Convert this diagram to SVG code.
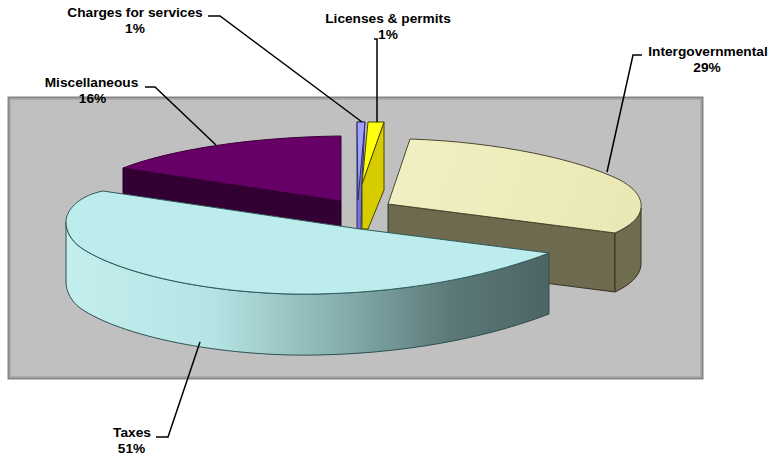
<svg xmlns="http://www.w3.org/2000/svg" width="768" height="457" viewBox="0 0 768 457">
<style>
  .lbl { font-family: "Liberation Sans", Arial, sans-serif; font-weight: bold; font-size: 13.7px; fill: #000; text-anchor: middle; }
  .lead { fill: none; stroke: #000; stroke-width: 1.5; stroke-linejoin: miter; }
  .edge { stroke-width: 1; stroke-linejoin: round; }
</style>
<defs>
  <linearGradient id="taxSide" gradientUnits="userSpaceOnUse" x1="66" y1="0" x2="549" y2="0">
    <stop offset="0" stop-color="#c3eeee"/>
    <stop offset="0.3" stop-color="#b6e4e4"/>
    <stop offset="0.55" stop-color="#8ab3b3"/>
    <stop offset="0.8" stop-color="#5c7878"/>
    <stop offset="1" stop-color="#4d6464"/>
  </linearGradient>
  <linearGradient id="intTop" gradientUnits="userSpaceOnUse" x1="388" y1="139" x2="641" y2="233">
    <stop offset="0" stop-color="#f1f0c2"/>
    <stop offset="1" stop-color="#e9e8b4"/>
  </linearGradient>
</defs>

<g id="plot-area">
  <rect x="8.5" y="97.5" width="694" height="281" fill="#c0c0c0" stroke="#858585" stroke-width="2"/>
  <rect x="10.5" y="99.5" width="690" height="277" fill="none" stroke="#acacac" stroke-width="1"/>
</g>

<g id="slice-miscellaneous">
  <path class="edge" d="M123,168 L341,201 L341,262 L123,229 Z" fill="#320032" stroke="#1a001a"/>
  <path class="edge" d="M123,168 C170,150 250,137 341,136 L341,201 Z" fill="#660066" stroke="#3a003a"/>
  <text class="lbl" x="91.5" y="87">Miscellaneous</text>
  <text class="lbl" x="92.5" y="103">16%</text>
</g>

<g id="slice-charges">
  <path class="edge" d="M357,122 L365,122 L362,184 L361,229 L357,229 Z" fill="#7474dc" stroke="#2e2e66"/>
  <path class="edge" d="M357,122 L365,122 L358,200 Z" fill="#a0a0ff" stroke="#2e2e66"/>
  <text class="lbl" x="135" y="17">Charges for services</text>
  <text class="lbl" x="135" y="33">1%</text>
</g>

<g id="slice-licenses">
  <path class="edge" d="M384,122 L384,190 L368,229 L362,229 L362,184 Z" fill="#d6cc00" stroke="#4a4500"/>
  <path class="edge" d="M368,122 L384,122 L362,184 Z" fill="#ffff10" stroke="#4a4500"/>
  <text class="lbl" x="388" y="23">Licenses &amp; permits</text>
  <text class="lbl" x="388" y="39">1%</text>
</g>

<g id="slice-intergovernmental">
  <path class="edge" d="M388,204 L615,233 L615,292 L388,263 Z" fill="#6d6a4f" stroke="#35331f"/>
  <path class="edge" d="M615,233 C630,226 640,218 641,208 L641,265 C640,276 630,285 615,292 Z" fill="#6f6c50" stroke="#35331f"/>
  <path class="edge" d="M410,139 C500,142 580,160 620,180 C638,190 642,200 641,208 C640,218 630,226 615,233 L388,204 Z" fill="url(#intTop)" stroke="#4a4830"/>
  <text class="lbl" x="708" y="56">Intergovernmental</text>
  <text class="lbl" x="707" y="72">29%</text>
</g>

<g id="slice-taxes">
  <path class="edge" d="M66,222 C66,232 72,241 80,247 C120,275 220,296 318,294 C420,292 500,272 549,253 L549,314 C500,333 420,353 318,355 C220,357 120,336 80,308 C72,302 66,292 66,282 Z" fill="url(#taxSide)" stroke="#2e5050"/>
  <path class="edge" d="M103,191 L360,229 L549,253 C500,272 420,292 318,294 C220,296 120,275 80,247 C72,241 66,232 66,222 C66,208 82,195 103,191 Z" fill="#bdecec" stroke="#2e5a5a"/>
  <text class="lbl" x="132" y="437">Taxes</text>
  <text class="lbl" x="131.5" y="453">51%</text>
</g>

<g id="connectors">
  <polyline class="lead" points="208,16 220,16 362,122"/>
  <polyline class="lead" points="374,39 377,39 377,122"/>
  <polyline class="lead" points="642,55 633,55 607,172"/>
  <polyline class="lead" points="145,87 155,87 216,145"/>
  <polyline class="lead" points="156,437 168,437 200,342"/>
</g>
</svg>
